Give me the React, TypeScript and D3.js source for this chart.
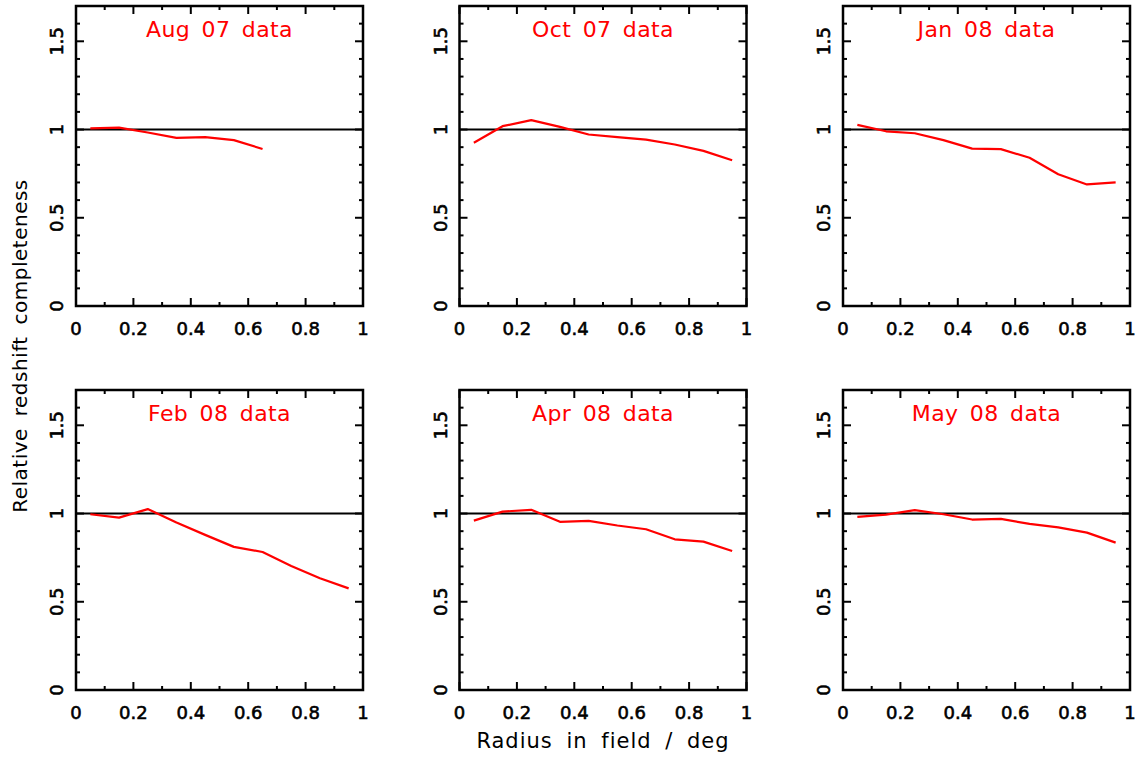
import React, { useEffect, useRef } from "react";
import * as d3 from "d3";

// radial bins (deg)
const radii = [0.05, 0.15, 0.25, 0.35, 0.45, 0.55, 0.65, 0.75, 0.85, 0.95];

const panelTitles = ["Aug 07 data", "Oct 07 data", "Jan 08 data", "Feb 08 data", "Apr 08 data", "May 08 data"];

const aug07 = [1.006, 1.011, 0.983, 0.953, 0.957, 0.94, 0.89];
const oct07 = [0.925, 1.019, 1.053, 1.015, 0.972, 0.957, 0.943, 0.915, 0.879, 0.826];
const jan08 = [1.026, 0.99, 0.979, 0.94, 0.892, 0.889, 0.84, 0.747, 0.689, 0.7];
const feb08 = [0.996, 0.977, 1.025, 0.949, 0.879, 0.811, 0.782, 0.703, 0.633, 0.576];
const apr08 = [0.96, 1.011, 1.021, 0.953, 0.958, 0.932, 0.911, 0.854, 0.841, 0.788];
const may08 = [0.981, 0.994, 1.019, 0.996, 0.966, 0.97, 0.941, 0.922, 0.892, 0.835];

const series = [aug07, oct07, jan08, feb08, apr08, may08];

const xTickLabels = [0, 0.2, 0.4, 0.6, 0.8, 1];
const yTickLabels = [0, 0.5, 1, 1.5];

const width = 1136;
const height = 761;

const App = () => {
  const ref = useRef<SVGSVGElement>(null);

  useEffect(() => {
    const svg = d3.select(ref.current);
    svg.selectAll("*").remove();

    const pw = 287;
    const ph = 300;
    const cols = [76, 459.5, 843];
    const rows = [6, 390];
    const font = "'DejaVu Sans', sans-serif";

    series.forEach((vals, i) => {
      const left = cols[i % 3];
      const top = rows[Math.floor(i / 3)];

      const x = d3.scaleLinear().domain([0, 1]).range([left, left + pw]);
      const y = d3.scaleLinear().domain([0, 1.7]).range([top + ph, top]);

      const g = svg.append("g");

      // ticks on all four sides, pointing inward
      const xMinor = d3.range(0, 1.0001, 0.1);
      const yMinor = d3.range(0, 1.70001, 0.1);
      xMinor.forEach((v, k) => {
        const len = k % 2 === 0 ? 8 : 4;
        g.append("line").attr("x1", x(v)).attr("x2", x(v)).attr("y1", y(0)).attr("y2", y(0) - len);
        g.append("line").attr("x1", x(v)).attr("x2", x(v)).attr("y1", y(1.7)).attr("y2", y(1.7) + len);
      });
      yMinor.forEach((v, k) => {
        const len = k % 5 === 0 ? 8 : 4;
        g.append("line").attr("x1", x(0)).attr("x2", x(0) + len).attr("y1", y(v)).attr("y2", y(v));
        g.append("line").attr("x1", x(1)).attr("x2", x(1) - len).attr("y1", y(v)).attr("y2", y(v));
      });
      g.selectAll("line").attr("stroke", "#000").attr("stroke-width", 2);

      g.append("rect")
        .attr("x", x(0))
        .attr("y", y(1.7))
        .attr("width", pw)
        .attr("height", ph)
        .attr("fill", "none")
        .attr("stroke", "#000")
        .attr("stroke-width", 2.5);

      // reference line at 1
      g.append("line")
        .attr("x1", x(0))
        .attr("x2", x(1))
        .attr("y1", y(1))
        .attr("y2", y(1))
        .attr("stroke", "#000")
        .attr("stroke-width", 2);

      const line = d3
        .line<number>()
        .x((_, j) => x(radii[j]))
        .y((d) => y(d));

      g.append("path")
        .attr("d", line(vals))
        .attr("fill", "none")
        .attr("stroke", "#ff0000")
        .attr("stroke-width", 2.2)
        .attr("stroke-linejoin", "round");

      g.selectAll(".xl")
        .data(xTickLabels)
        .join("text")
        .attr("x", (d) => x(d))
        .attr("y", y(0) + 29)
        .attr("text-anchor", "middle")
        .attr("font-family", font)
        .attr("font-size", 18)
        .attr("fill", "#000")
        .attr("stroke", "#000")
        .attr("stroke-width", 0.6)
        .text((d) => String(d));

      g.selectAll(".yl")
        .data(yTickLabels)
        .join("text")
        .attr("transform", (d) => `translate(${x(0) - 13},${y(d)}) rotate(-90)`)
        .attr("text-anchor", "middle")
        .attr("font-family", font)
        .attr("font-size", 18)
        .attr("fill", "#000")
        .attr("stroke", "#000")
        .attr("stroke-width", 0.6)
        .text((d) => String(d));

      g.append("text")
        .attr("x", x(0.5))
        .attr("y", top + 31)
        .attr("text-anchor", "middle")
        .attr("font-family", font)
        .attr("font-size", 22)
        .attr("letter-spacing", 0.4)
        .attr("word-spacing", 4)
        .attr("fill", "#ff0000")
        .text(panelTitles[i]);
    });

    svg.append("text")
      .attr("x", 603)
      .attr("y", 748)
      .attr("text-anchor", "middle")
      .attr("font-family", font)
      .attr("font-size", 21)
      .attr("letter-spacing", 1)
      .attr("word-spacing", 6)
      .attr("fill", "#000")
      .text("Radius in field / deg");

    svg.append("text")
      .attr("transform", "translate(27,346) rotate(-90)")
      .attr("text-anchor", "middle")
      .attr("font-family", font)
      .attr("font-size", 20)
      .attr("letter-spacing", 0.5)
      .attr("word-spacing", 5)
      .attr("fill", "#000")
      .text("Relative redshift completeness");
  }, []);

  return (
    <div style={{ position: "absolute", left: 0, top: 0 }}>
      <svg ref={ref} width={width} height={height} style={{ display: "block", background: "#fff" }} />
    </div>
  );
};

export default App;
